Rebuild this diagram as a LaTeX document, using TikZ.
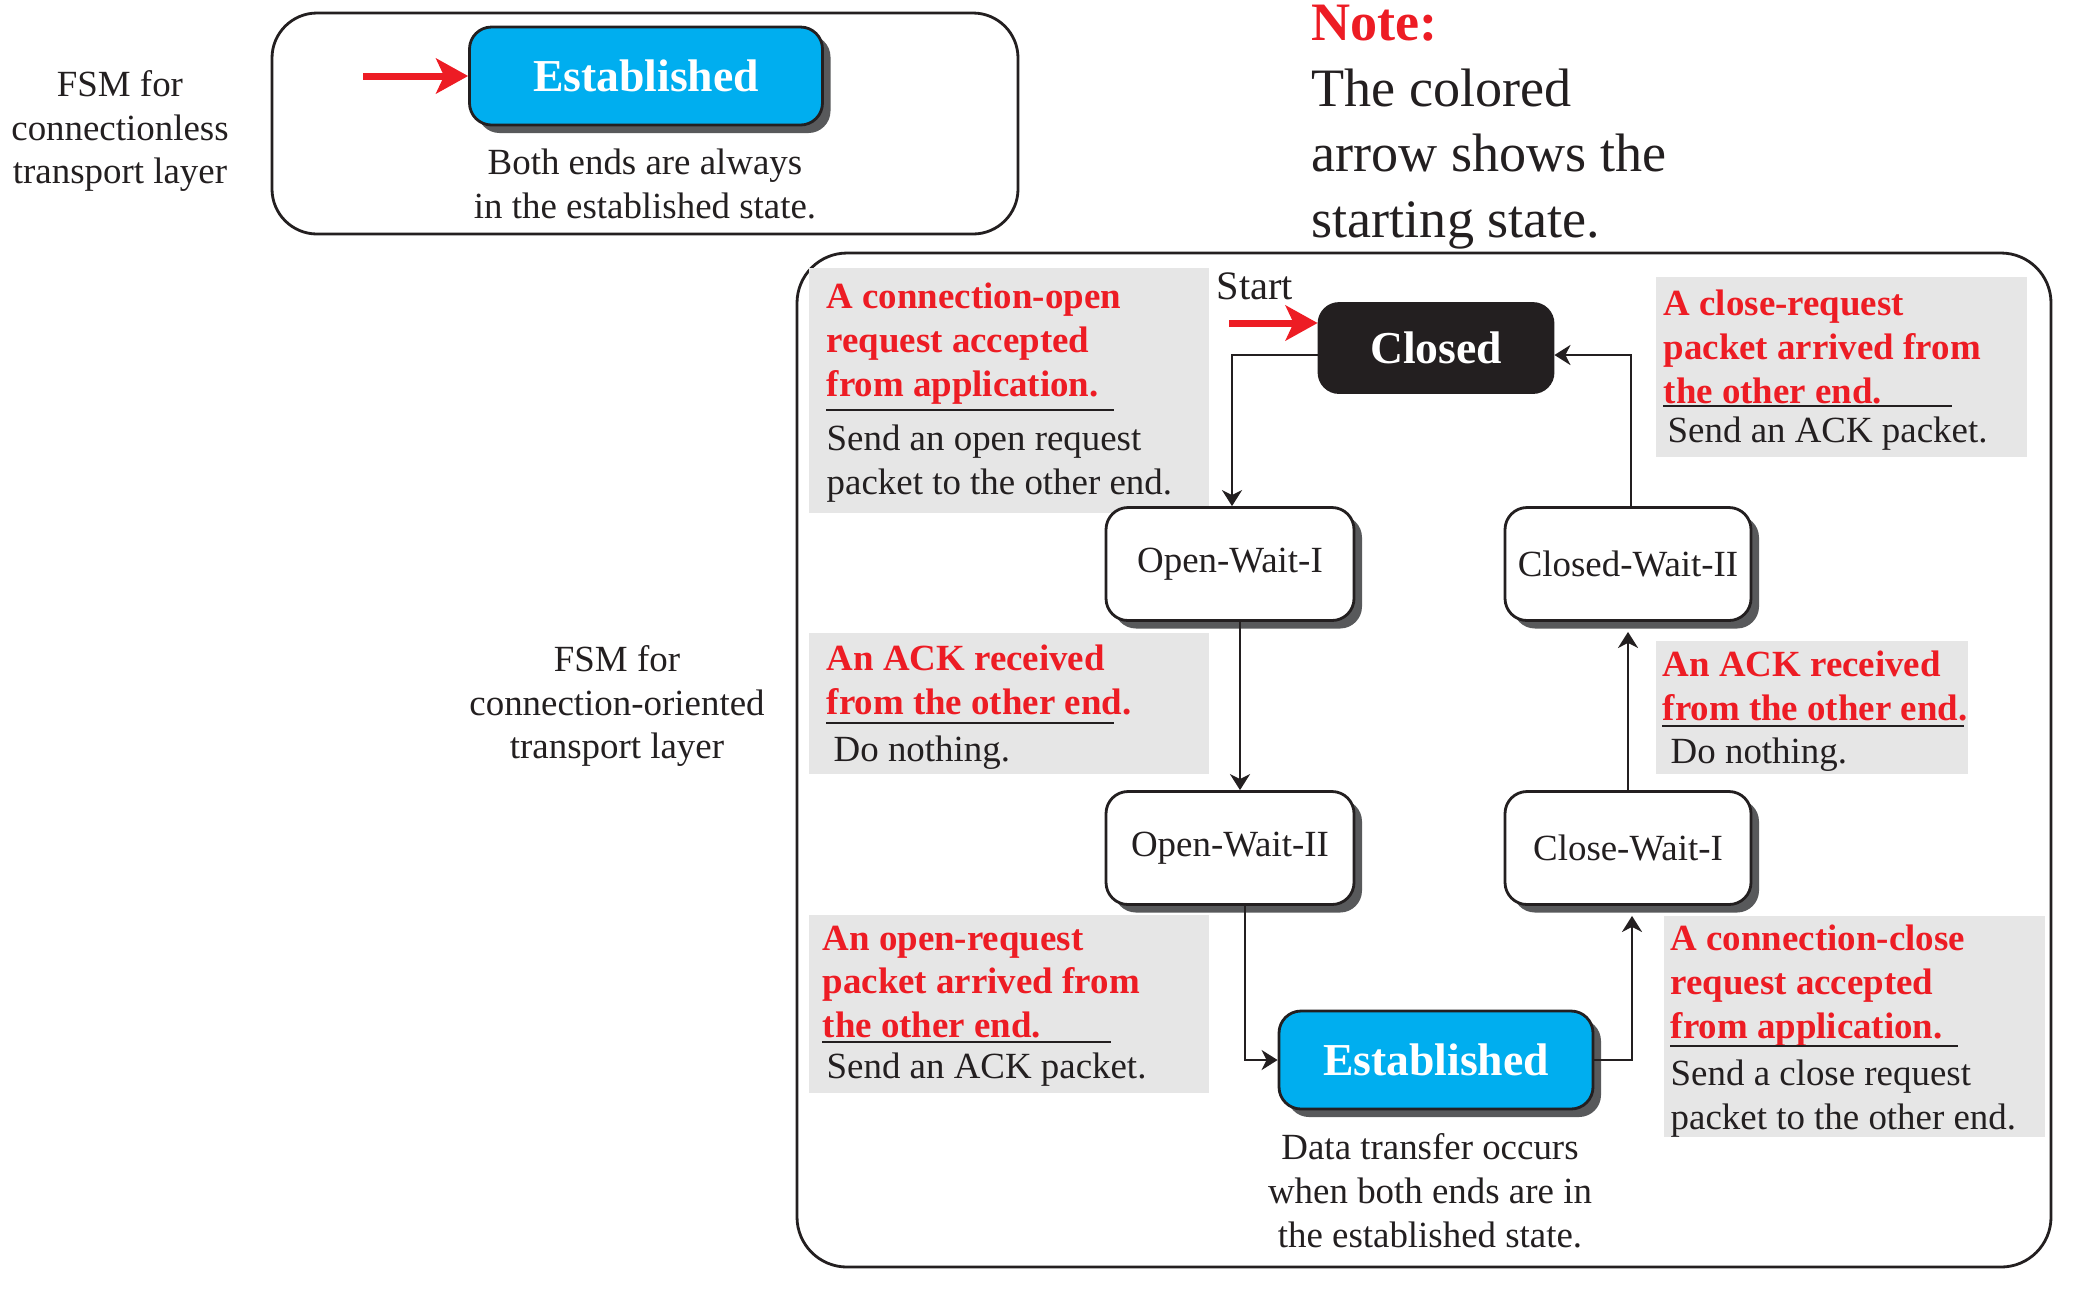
\documentclass[tikz,border=0pt]{standalone}
\usepackage{fontspec}
\setmainfont{Liberation Serif}
\usetikzlibrary{arrows.meta,shadows,calc}
\definecolor{fred}{HTML}{ED1C24}
\definecolor{fblue}{HTML}{00AEEF}
\definecolor{fgray}{HTML}{E6E6E6}
\definecolor{fshadow}{HTML}{58595B}
\definecolor{ftext}{HTML}{231F20}
\begin{document}
\begin{tikzpicture}[x=0.1mm,y=-0.1mm,
  body/.style={font=\fontsize{10.5}{12.5}\selectfont, text=ftext, inner sep=0pt, align=left},
  redtxt/.style={font=\fontsize{10.5}{12.5}\selectfont\bfseries, text=fred, inner sep=0pt, align=left},
  ctrtxt/.style={font=\fontsize{10.5}{12.5}\selectfont, text=ftext, inner sep=0pt, align=center},
  notetxt/.style={font=\fontsize{15.4}{18.7}\selectfont, text=ftext, inner sep=0pt, align=left},
  frame/.style={draw=ftext, line width=0.8pt},
  lblbox/.style={fill=fgray},
  uline/.style={draw=ftext, line width=0.8pt},
  shad/.style={drop shadow={shadow xshift=0.8mm, shadow yshift=-0.8mm, fill=fshadow, opacity=1}},
  state/.style={draw=ftext, line width=0.8pt, rounded corners=2.2mm, fill=white,
     minimum width=24.8mm, minimum height=11.3mm, font=\fontsize{10.5}{12.5}\selectfont, text=ftext, shad},
  eststate/.style={draw=ftext, line width=0.8pt, rounded corners=2.2mm, fill=fblue,
     minimum height=9.8mm, text=white, font=\fontsize{13}{15}\selectfont\bfseries, shad},
  closedstate/.style={draw=ftext, line width=0.8pt, rounded corners=2mm, fill=ftext,
     minimum width=23.4mm, minimum height=8.9mm, text=white, font=\fontsize{13}{15}\selectfont\bfseries},
  conn/.style={draw=ftext, line width=0.8pt, -{Stealth[length=1.6mm,width=2mm,inset=0.5mm]}},
  startarrow/.style={draw=fred, line width=2pt, -{Stealth[length=3.2mm,width=3.5mm,inset=0.8mm]}}
]
\useasboundingbox (0,0) rectangle (2100,1288);

% ---------- connectionless part ----------
\node[ctrtxt] (lblless) at (120,131) {FSM for\\connectionless\\transport layer};
\draw[frame, rounded corners=4.5mm] (272,13) rectangle (1018,234);
\node[eststate, minimum width=35.3mm] (est1) at (646,76) {Established};
\coordinate (s1) at (363,76);
\draw[startarrow] (s1) -- (est1.west);
\node[ctrtxt] (desc1) at (645,184) {Both ends are always\\in the established state.};

% ---------- note ----------
\node[notetxt, anchor=west] (note) at (1311,127) {{\color{fred}\bfseries Note:}\\The colored\\arrow shows the\\starting state.};

% ---------- connection-oriented part ----------
\node[ctrtxt] (lbloriented) at (617,706) {FSM for\\connection-oriented\\transport layer};
\draw[frame, rounded corners=5mm] (797,253) rectangle (2051,1267);

% gray label boxes
\fill[lblbox] (809,268) rectangle (1209,513);
\fill[lblbox] (1656,277) rectangle (2027,457);
\fill[lblbox] (809,633) rectangle (1209,774);
\fill[lblbox] (1656,641) rectangle (1968,774);
\fill[lblbox] (809,915) rectangle (1209,1093);
\fill[lblbox] (1664,916) rectangle (2045,1137);

% block A
\node[redtxt, anchor=west] (ra) at (826,344) {A connection-open\\request accepted\\from application.};
\draw[uline] (826,410) -- (1114,410);
\node[body, anchor=west] (ba) at (826,464) {Send an open request\\packet to the other end.};
% block B
\node[redtxt, anchor=west] (rb) at (1663,347) {A close-request\\packet arrived from\\the other end.};
\draw[uline] (1663,406) -- (1952,406);
\node[body, anchor=west] (bb) at (1667,434) {Send an ACK packet.};
% block C
\node[redtxt, anchor=west] (rc) at (826,680) {An ACK received\\from the other end.};
\draw[uline] (826,723) -- (1114,723);
\node[body, anchor=west] (bc) at (833,753) {Do nothing.};
% block D
\node[redtxt, anchor=west] (rd) at (1662,686) {An ACK received\\from the other end.};
\draw[uline] (1662,726) -- (1964,726);
\node[body, anchor=west] (bd) at (1670,755) {Do nothing.};
% block E
\node[redtxt, anchor=west] (re) at (822,982) {An open-request\\packet arrived from\\the other end.};
\draw[uline] (822,1042) -- (1111,1042);
\node[body, anchor=west] (be) at (826,1070) {Send an ACK packet.};
% block F
\node[redtxt, anchor=west] (rf) at (1670,986) {A connection-close\\request accepted\\from application.};
\draw[uline] (1670,1046) -- (1958,1046);
\node[body, anchor=west] (bf) at (1670,1099) {Send a close request\\packet to the other end.};

% states
\node[closedstate] (closed) at (1436,348) {Closed};
\node[state] (ow1) at (1230,564) {Open-Wait-I};
\node[state, minimum width=24.6mm] (cw2) at (1628,564) {Closed-Wait-II};
\node[state] (ow2) at (1230,848) {Open-Wait-II};
\node[state, minimum width=24.6mm] (cw1) at (1628,848) {Close-Wait-I};
\node[eststate, minimum width=31.4mm] (est2) at (1436,1060) {Established};
\node[ctrtxt] (desc2) at (1430,1191) {Data transfer occurs\\when both ends are in\\the established state.};

% start
\node[font=\fontsize{11.5}{13}\selectfont, text=ftext, inner sep=0pt] (startlbl) at (1255,286) {Start};
\coordinate (s2) at (1229,323);
\draw[startarrow] (s2) -- (closed.west |- s2);

% transitions
\draw[conn] ($(closed.west)+(0,7)$) -| ($(ow1.north)+(2,0)$);
\draw[conn] ($(ow1.south)+(10,0)$) -- ($(ow2.north)+(10,0)$);
\draw[conn] ($(ow2.south)+(15,0)$) |- (est2.west);
\draw[conn] (est2.east) -| ($(cw1.south)+(4,10)$);
\draw[conn] (cw1.north) -- ($(cw2.south)+(0,10)$);
\draw[conn] ($(cw2.north)+(3,0)$) |- ($(closed.east)+(0,7)$);
\end{tikzpicture}
\end{document}
